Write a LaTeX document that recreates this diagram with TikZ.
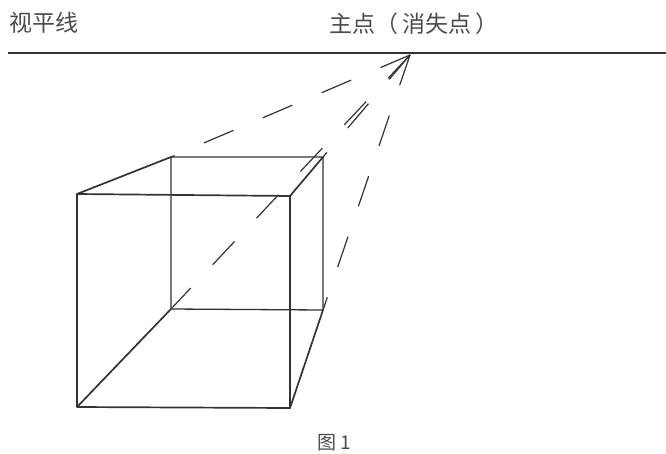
\documentclass[tikz,border=0pt]{standalone}
\usepackage{fontspec}
\newfontfamily\cjk{Noto Sans CJK SC}
\usepackage{tikz}
\usetikzlibrary{positioning}
\definecolor{mgray}{rgb}{0.2, 0.2, 0.2}
\definecolor{tgray}{rgb}{0.3, 0.3, 0.3}
\tikzset{edge/.style = {line width=1.7pt, draw=mgray, line join=round},
         ray/.style = {line width=1.2pt, draw=mgray, dash pattern=on 32pt off 32pt},
         label/.style = {inner sep=0, text=tgray, font=\cjk\fontsize{23}{23}\selectfont}}

\begin{document}
\begin{tikzpicture}[x=1pt, y=-1pt]
    \useasboundingbox (0, 0) rectangle (666, 453);
    \coordinate (hl) at (8, 53);
    \coordinate (hr) at (666, 53);
    \coordinate (vp) at (410, 55);
    \draw [edge] (hl) -- (hr);
    \node (sight) [label, anchor=west] at (9, 23) {视平线};
    \node (main) [label] at (414, 24) {主点（\,消失点\,）};
    % front face
    \coordinate (fa) at (77, 194);
    \coordinate (fb) at (290, 196);
    \coordinate (fc) at (290, 408);
    \coordinate (fd) at (77, 407);
    % back face
    \coordinate (ba) at (171, 157);
    \coordinate (bb) at (323, 157);
    \coordinate (bc) at (323, 310);
    \coordinate (bd) at (171, 309);
    \draw [edge] (fa) -- (fb) -- (fc) -- (fd) -- cycle;
    \draw [edge, line width=1.3pt] (ba) -- (bb) -- (bc) -- (bd) -- cycle;
    \foreach \c in {a,b,c,d} {
      \draw [edge] (f\c) -- (b\c);
      \draw [ray] (vp) -- (b\c);
    }
    \node (fig) [label, font=\cjk\fontsize{19}{19}\selectfont] at (334, 443) {图 1};
  \end{tikzpicture}
\end{document}
